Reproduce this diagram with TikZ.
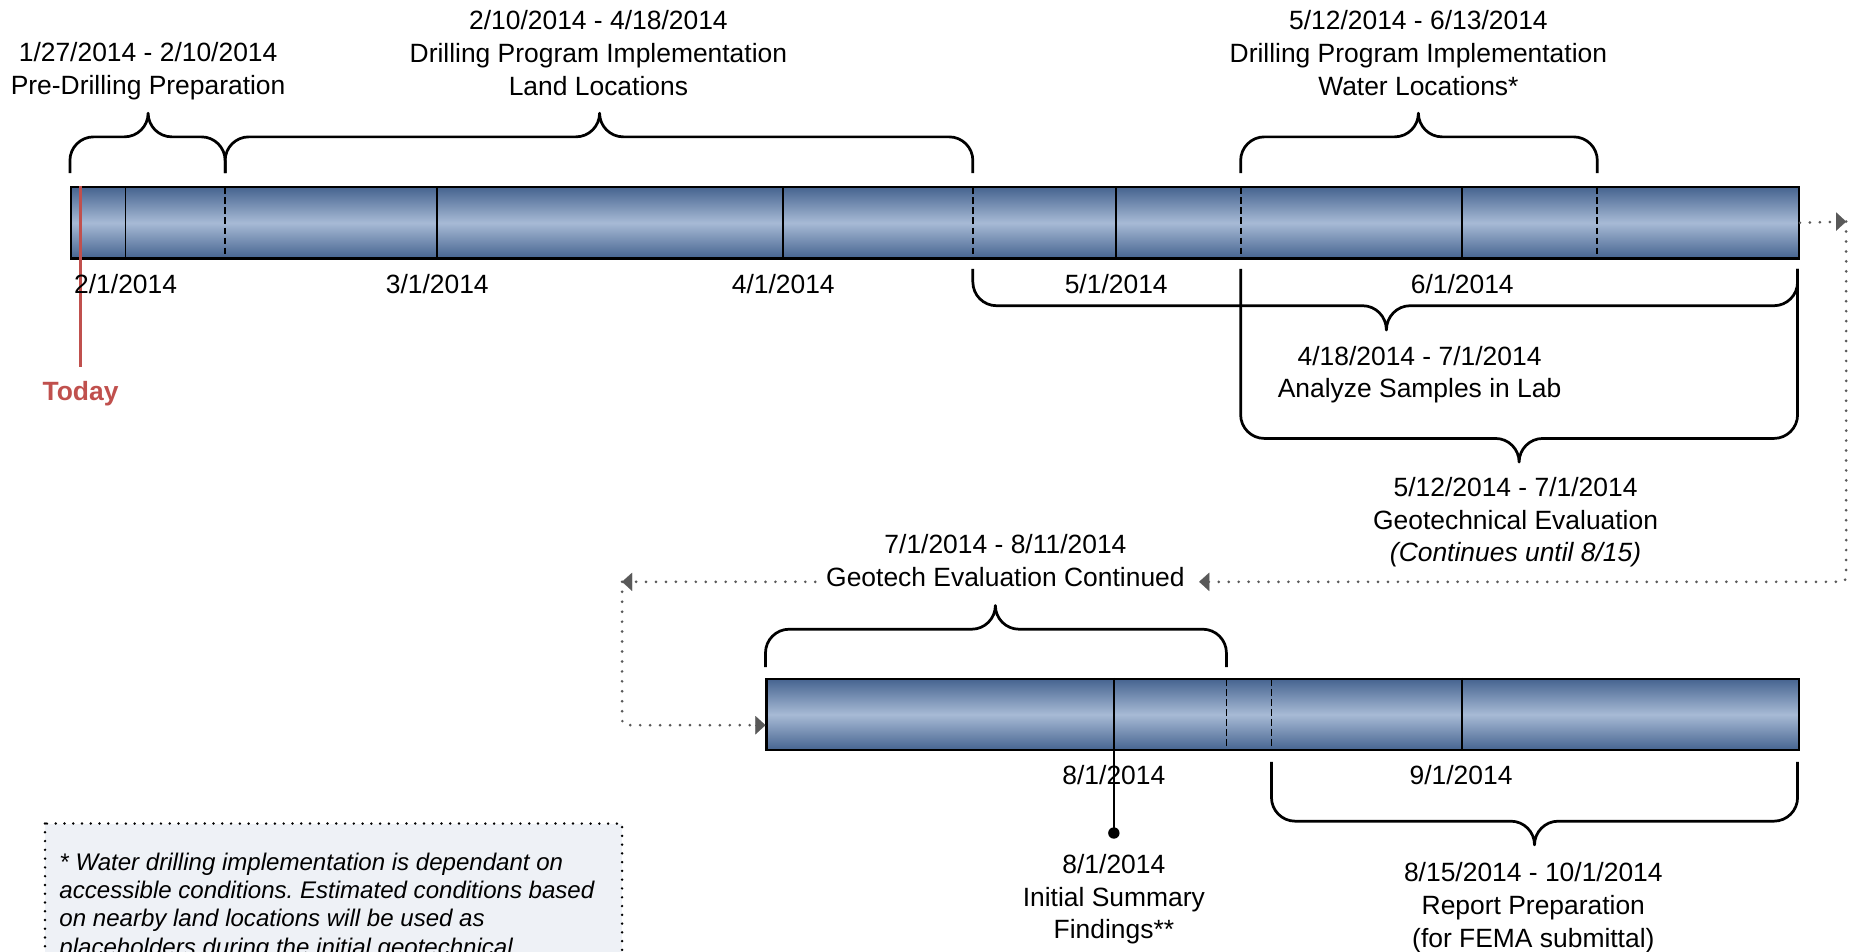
\documentclass[tikz,border=0pt]{standalone}
\usepackage{fontspec}
\setmainfont{Liberation Sans}
\usetikzlibrary{arrows.meta}
\definecolor{barD}{RGB}{70,100,144}
\definecolor{barL}{RGB}{167,186,213}
\definecolor{todayred}{RGB}{192,80,77}
\definecolor{dotgray}{RGB}{89,89,89}
\definecolor{notefill}{RGB}{238,241,246}
\newcommand{\sH}{\rule{0pt}{17pt}}
% brace: #1 left x, #2 right x, #3 tip x, #4 end y, #5 horizontal y, #6 tip y
\newcommand{\tlbrace}[6]{%
  \pgfmathsetmacro{\brD}{(#4>#5)?1:-1}%
  \pgfmathsetmacro{\brRy}{min(20,abs(#4-#5))}%
  \pgfmathsetmacro{\brRx}{20}%
  \pgfmathsetmacro{\brRt}{20}%
  \pgfmathsetmacro{\brHt}{abs(#5-#6)}%
  \draw[bracestyle] (#1,#4) -- (#1,{#5+\brD*\brRy})
     .. controls (#1,{#5+\brD*\brRy*0.448}) and ({#1+\brRx*0.448},#5) .. ({#1+\brRx},#5)
     -- ({#3-\brRt},#5)
     .. controls ({#3-\brRt*0.448},#5) and (#3,{#5-\brD*\brHt*0.448}) .. (#3,#6)
     .. controls (#3,{#5-\brD*\brHt*0.448}) and ({#3+\brRt*0.448},#5) .. ({#3+\brRt},#5)
     -- ({#2-\brRx},#5)
     .. controls ({#2-\brRx*0.448},#5) and (#2,{#5+\brD*\brRy*0.448}) .. (#2,{#5+\brD*\brRy})
     -- (#2,#4);}
\frenchspacing
\begin{document}
\begin{tikzpicture}[x=1pt,y=-1pt,
  lbl/.style={font=\fontsize{22.3}{27.5}\selectfont, align=center, inner sep=0pt, anchor=north},
  todaylbl/.style={font=\fontsize{22.3}{27.5}\selectfont\bfseries, text=todayred, inner sep=0pt, anchor=north},
  notetxt/.style={font=\fontsize{20.3}{24}\selectfont\itshape, align=left, inner sep=0pt, anchor=north west},
  bar/.style={draw=black, line width=2pt, inner sep=0pt, top color=barD, bottom color=barD, middle color=barL, anchor=north west},
  divs/.style={line width=1.4pt, black},
  divd/.style={line width=1.5pt, black, dash pattern=on 5.5pt off 3pt},
  bracestyle/.style={line width=2.3pt, black, line join=round},
  dotc/.style={line width=2.5pt, dotgray, dash pattern=on 0pt off 8.4pt, line cap=round},
  tip/.style={-{Triangle[length=8.5pt,width=15.5pt]}},
  notebox/.style={line width=2.3pt, black, dash pattern=on 0pt off 7.4pt, line cap=round, fill=notefill}
]
\useasboundingbox (0,0) rectangle (1568,803);
\clip (0,0) rectangle (1568,803);

% bars
\node[bar, minimum width=1458pt, minimum height=60pt] (bar1) at (59,157) {};
\node[bar, minimum width=871pt, minimum height=60pt] (bar2) at (646,572) {};
\foreach \x in {106,369,661,942,1234} \draw[divs] (\x,157) -- (\x,217);
\foreach \x in {190,821,1047,1348} \draw[divd] (\x,158) -- (\x,216);
\foreach \x in {940,1234} \draw[divs] (\x,572) -- (\x,632);
\foreach \x in {1035,1073} \draw[divd] (\x,573) -- (\x,631);

% today
\draw[todayred, line width=2.2pt] (68,157) -- (68,310);
\node[todaylbl] (today) at (68,321) {\sH Today};

% braces
\tlbrace{59}{190}{125}{146}{115.5}{95.5}
\tlbrace{190}{821}{506}{146}{115.5}{95.5}
\tlbrace{1047}{1348}{1197}{146}{115.5}{95.5}
\tlbrace{821}{1517}{1170}{227}{258}{278.5}
\tlbrace{1047}{1517}{1282}{227}{370}{390}
\tlbrace{646}{1035}{840}{563}{531}{511}
\tlbrace{1073}{1517}{1295}{643}{693}{713}

% labels
\node[lbl] (l1) at (125,35) {\sH 1/27/2014 - 2/10/2014\\Pre-Drilling Preparation};
\node[lbl] (l2) at (505,8) {\sH 2/10/2014 - 4/18/2014\\Drilling Program Implementation\\Land Locations};
\node[lbl] (l3) at (1197,8) {\sH 5/12/2014 - 6/13/2014\\Drilling Program Implementation\\Water Locations*};
\node[lbl] (d1) at (106,230.5) {\sH 2/1/2014};
\node[lbl] (d2) at (369,230.5) {\sH 3/1/2014};
\node[lbl] (d3) at (661,230.5) {\sH 4/1/2014};
\node[lbl] (d4) at (942,230.5) {\sH 5/1/2014};
\node[lbl] (d5) at (1234,230.5) {\sH 6/1/2014};
\node[lbl] (l4) at (1198,291) {\sH 4/18/2014 - 7/1/2014\\Analyze Samples in Lab};
\node[lbl] (l5) at (1279,402) {\sH 5/12/2014 - 7/1/2014\\Geotechnical Evaluation\\\textit{(Continues until 8/15)}};
\node[lbl] (l6) at (848.5,450) {\sH 7/1/2014 - 8/11/2014\\Geotech Evaluation Continued};
\node[lbl] (d6) at (940,645) {\sH 8/1/2014};
\node[lbl] (d7) at (1233,645) {\sH 9/1/2014};
\node[lbl] (l7) at (940,720) {\sH 8/1/2014\\Initial Summary\\Findings**};
\node[lbl] (l8) at (1294,727) {\sH 8/15/2014 - 10/1/2014\\Report Preparation\\(for FEMA submittal)};

% milestone
\coordinate (ms) at (940,703);
\draw[line width=2pt] (940,632) -- (ms);
\fill (ms) circle (4.8);

% dotted connectors
\coordinate (c1) at (1558,187);
\coordinate (c2) at (1558,491);
\coordinate (c3) at (1012,491);
\coordinate (c4) at (688,491);
\coordinate (c5) at (525,491);
\coordinate (c6) at (525,612);
\coordinate (c7) at (646,612);
\draw[dotc] (bar1.east) -- (c1);
\draw[dotgray, tip, line width=0.1pt] ([xshift=-1pt]c1) -- (c1);
\draw[dotc, rounded corners=4pt] (c1) -- (c2) -- ([xshift=8pt]c3);
\draw[dotgray, tip, line width=0.1pt] ([xshift=1pt]c3) -- (c3);
\draw[dotc] (c4) -- (c5);
\draw[dotgray, tip, line width=0.1pt] ([xshift=1pt]c5) -- (c5);
\draw[dotc, rounded corners=4pt] (c5) -- (c6) -- ([xshift=-8pt]c7);
\draw[dotgray, tip, line width=0.1pt] ([xshift=-1pt]c7) -- (c7);

% note
\draw[notebox] (38,695) rectangle (525,860);
\node[notetxt] (note) at (50,717) {\sH * Water drilling implementation is dependant on\\accessible conditions. Estimated conditions based\\on nearby land locations will be used as\\placeholders during the initial geotechnical};
\end{tikzpicture}
\end{document}
